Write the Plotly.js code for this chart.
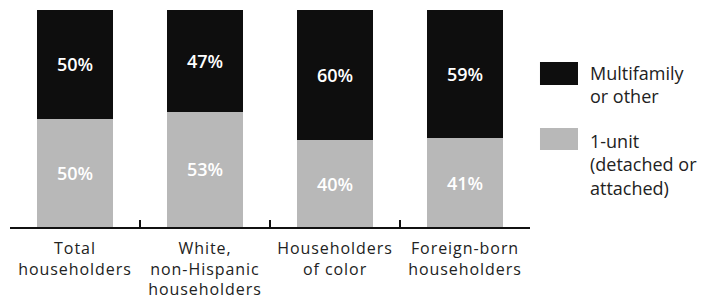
<!DOCTYPE html>
<html>
<head>
<meta charset="utf-8">
<script src="https://cdn.plot.ly/plotly-3.0.1.min.js"></script>
<style>
html,body{margin:0;padding:0;background:#fff;}
#chart{width:706px;height:299px;}
#chart .xtick text{letter-spacing:0.95px;}
</style>
</head>
<body>
<div id="chart"></div>
<script>
const categories = ["Total<br>householders", "White,<br>non-Hispanic<br>householders", "Householders<br>of color", "Foreign-born<br>householders"];
const oneUnit = [50, 53, 40, 41];
const multifamily = [50, 47, 60, 59];
const seriesNames = ["1-unit<br>(detached or<br>attached)", "Multifamily<br>or other"];
const colors = ["#b8b8b8", "#0e0e0e"];

const FONT = "Open Sans, Noto Sans, sans-serif";

const traces = [
  {type: "bar", x: categories, y: oneUnit, name: seriesNames[0],
   marker: {color: colors[0]}, texttemplate: "%{y}%", textposition: "inside",
   insidetextanchor: "middle", textfont: {color: "#ffffff", size: 18, family: FONT, weight: 600},
   hoverinfo: "skip"},
  {type: "bar", x: categories, y: multifamily, name: seriesNames[1],
   marker: {color: colors[1]}, texttemplate: "%{y}%", textposition: "inside",
   insidetextanchor: "middle", textfont: {color: "#ffffff", size: 18, family: FONT, weight: 600},
   hoverinfo: "skip"}
];

const layout = {
  width: 706, height: 299,
  margin: {l: 10, r: 176, t: 10, b: 72},
  paper_bgcolor: "#ffffff", plot_bgcolor: "#ffffff",
  barmode: "stack", bargap: 0.41,
  showlegend: false,
  font: {family: FONT, color: "#222", size: 16},
  xaxis: {
    type: "category", showline: true, linecolor: "#111", linewidth: 1.5,
    ticks: "inside", tickson: "boundaries", ticklen: 7, tickcolor: "#111", tickwidth: 1.5,
    tickfont: {size: 16, color: "#222", family: FONT}, showgrid: false, zeroline: false,
    ticklabelstandoff: 6
  },
  yaxis: {range: [0, 100], visible: false, showgrid: false, zeroline: false},
  shapes: [
    {type: "rect", xref: "paper", yref: "paper", x0: 1.0192, x1: 1.0923, y0: 0.6544, y1: 0.7604,
     fillcolor: colors[1], line: {width: 0}},
    {type: "rect", xref: "paper", yref: "paper", x0: 1.0192, x1: 1.0923, y0: 0.355, y1: 0.456,
     fillcolor: colors[0], line: {width: 0}}
  ],
  annotations: [
    {xref: "paper", yref: "paper", x: 1.111, y: 0.772, xanchor: "left", yanchor: "top", align: "left",
     text: seriesNames[1], showarrow: false, font: {size: 18, color: "#222", family: FONT}},
    {xref: "paper", yref: "paper", x: 1.111, y: 0.462, xanchor: "left", yanchor: "top", align: "left",
     text: seriesNames[0], showarrow: false, font: {size: 18, color: "#222", family: FONT}}
  ]
};

Plotly.newPlot("chart", traces, layout, {displayModeBar: false, staticPlot: true});
</script>
</body>
</html>
